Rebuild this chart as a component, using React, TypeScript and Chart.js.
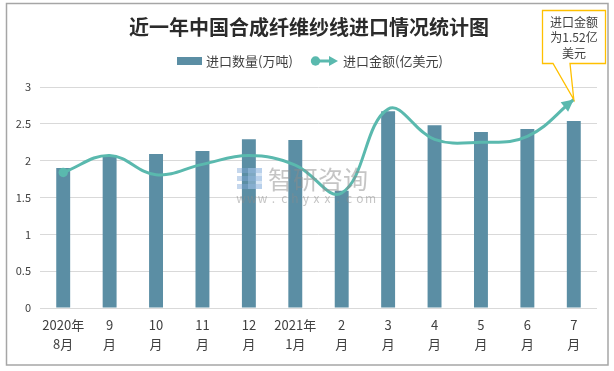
import React, { useEffect, useRef } from "react";
import { Chart, registerables } from "chart.js";

Chart.register(...registerables);

const categories: string[][] = [
  ["2020年", "8月"], ["9", "月"], ["10", "月"], ["11", "月"], ["12", "月"], ["2021年", "1月"],
  ["2", "月"], ["3", "月"], ["4", "月"], ["5", "月"], ["6", "月"], ["7", "月"],
];
const importVolume = [1.90, 2.06, 2.09, 2.13, 2.29, 2.28, 1.59, 2.67, 2.48, 2.39, 2.43, 2.54];
const importValue = [1.84, 2.07, 1.81, 1.95, 2.07, 1.94, 1.56, 2.70, 2.29, 2.25, 2.33, 2.83];
const yMin = 0;
const yMax = 3;
const yStep = 0.5;
const titleText = "近一年中国合成纤维纱线进口情况统计图";
const legendLabels = ["进口数量(万吨)", "进口金额(亿美元)"];
const calloutLines = ["进口金额", "为1.52亿", "美元"];
const watermarkCn = "智研咨询";
const watermarkUrl = "www.chyxx.com";

const FONT = "'Noto Sans CJK SC', 'Noto Sans', sans-serif";
const BAR_COLOR = "#5b8ea4";
const LINE_COLOR = "#5ab9ae";
const TEXT_COLOR = "#404040";

function arrowHead(ctx: CanvasRenderingContext2D, tipX: number, tipY: number, dx: number, dy: number, len: number, half: number) {
  const d = Math.hypot(dx, dy) || 1;
  const ux = dx / d, uy = dy / d;
  const bx = tipX - ux * len, by = tipY - uy * len;
  ctx.beginPath();
  ctx.moveTo(tipX, tipY);
  ctx.lineTo(bx - uy * half, by + ux * half);
  ctx.lineTo(bx + uy * half, by - ux * half);
  ctx.closePath();
  ctx.fill();
}

const decorPlugin = {
  id: "decor",
  beforeDraw(chart: any) {
    const ctx = chart.ctx as CanvasRenderingContext2D;
    ctx.save();
    ctx.fillStyle = "#ffffff";
    ctx.fillRect(0, 0, chart.width, chart.height);
    ctx.strokeStyle = "#a6a6a6";
    ctx.lineWidth = 1.5;
    ctx.strokeRect(6.5, 3.5, 601.5, 361.5);
    ctx.restore();
  },
  afterDatasetsDraw(chart: any) {
    const ctx = chart.ctx as CanvasRenderingContext2D;
    const meta = chart.getDatasetMeta(1);
    const pts = meta.data;
    const last = pts[pts.length - 1];
    if (!last) return;
    const dx = last.x - (last.cp1x ?? pts[pts.length - 2].x);
    const dy = last.y - (last.cp1y ?? pts[pts.length - 2].y);
    ctx.save();
    ctx.fillStyle = LINE_COLOR;
    arrowHead(ctx, last.x, last.y, dx, dy, 12, 6);
    ctx.restore();
  },
  afterDraw(chart: any) {
    const ctx = chart.ctx as CanvasRenderingContext2D;
    ctx.save();
    // title
    ctx.fillStyle = "#2b2b2b";
    ctx.font = `bold 20px ${FONT}`;
    ctx.textAlign = "center";
    ctx.textBaseline = "middle";
    ctx.fillText(titleText, 309, 27);

    // legend
    ctx.font = `13px ${FONT}`;
    ctx.textAlign = "left";
    ctx.fillStyle = BAR_COLOR;
    ctx.fillRect(177, 57, 25, 8);
    ctx.fillStyle = TEXT_COLOR;
    ctx.fillText(legendLabels[0], 206, 61.5);
    ctx.strokeStyle = LINE_COLOR;
    ctx.fillStyle = LINE_COLOR;
    ctx.lineWidth = 3;
    ctx.beginPath();
    ctx.moveTo(312, 61);
    ctx.lineTo(332, 61);
    ctx.stroke();
    ctx.beginPath();
    ctx.arc(315.5, 61, 4.7, 0, Math.PI * 2);
    ctx.fill();
    arrowHead(ctx, 338, 61, 1, 0, 9, 5);
    ctx.fillStyle = TEXT_COLOR;
    ctx.fillText(legendLabels[1], 343, 61.5);

    // watermark
    ctx.globalAlpha = 0.45;
    ctx.fillStyle = "#7fa6d6";
    ctx.fillRect(237, 168, 25, 5);
    ctx.fillRect(237, 176, 25, 5);
    ctx.fillRect(237, 184, 25, 5);
    ctx.fillStyle = "#a8c8e8";
    ctx.fillRect(248, 168, 14, 21);
    ctx.globalAlpha = 0.5;
    ctx.fillStyle = "#8c8c8c";
    ctx.font = `25px ${FONT}`;
    ctx.textBaseline = "middle";
    ctx.fillText(watermarkCn, 268, 179);
    ctx.font = `12px ${FONT}`;
    ctx.textAlign = "center";
    for (let i = 0; i < watermarkUrl.length; i++) {
      ctx.fillText(watermarkUrl[i], 241 + i * 10.8, 198);
    }
    ctx.globalAlpha = 1;

    // callout
    const meta = chart.getDatasetMeta(1);
    const last = meta.data[meta.data.length - 1];
    const tipX = last ? last.x : 573;
    const tipY = last ? last.y : 98;
    const L = 542.5, R = 605.5, T = 10.5, B = 63.5;
    ctx.beginPath();
    ctx.moveTo(L, T);
    ctx.lineTo(R, T);
    ctx.lineTo(R, B);
    ctx.lineTo(570, B);
    ctx.lineTo(tipX, tipY);
    ctx.lineTo(553, B);
    ctx.lineTo(L, B);
    ctx.closePath();
    ctx.fillStyle = "#ffffff";
    ctx.fill();
    ctx.strokeStyle = "#ffc000";
    ctx.lineWidth = 1.3;
    ctx.stroke();
    ctx.fillStyle = TEXT_COLOR;
    ctx.font = `12px ${FONT}`;
    ctx.textAlign = "center";
    ctx.textBaseline = "middle";
    calloutLines.forEach((t, i) => ctx.fillText(t, 574, 22 + i * 15.5));
    ctx.restore();
  },
};

export default function App() {
  const ref = useRef<HTMLCanvasElement | null>(null);
  useEffect(() => {
    if (!ref.current) return;
    const chart = new Chart(ref.current, {
      type: "bar",
      data: {
        labels: categories,
        datasets: [
          {
            type: "bar",
            label: legendLabels[0],
            data: importVolume,
            backgroundColor: BAR_COLOR,
            barPercentage: 0.3,
            categoryPercentage: 1,
            order: 1,
          } as any,
          {
            type: "line",
            label: legendLabels[1],
            data: importValue,
            borderColor: LINE_COLOR,
            backgroundColor: LINE_COLOR,
            borderWidth: 3,
            tension: 0.4,
            pointRadius: importValue.map((_, i) => (i === 0 ? 4.7 : 0)),
            pointBorderWidth: 0,
            pointBackgroundColor: LINE_COLOR,
            clip: false,
            order: 0,
          } as any,
        ],
      },
      options: {
        animation: false,
        responsive: false,
        devicePixelRatio: 1,
        layout: { padding: { top: 87, right: 17, left: 0, bottom: 0 } },
        plugins: {
          legend: { display: false },
          title: { display: false },
          tooltip: { enabled: false },
        },
        scales: {
          x: {
            offset: true,
            grid: { display: false, drawTicks: false },
            border: { display: false },
            ticks: {
              autoSkip: false,
              maxRotation: 0,
              minRotation: 0,
              padding: 8,
              color: TEXT_COLOR,
              font: { family: FONT, size: 13, lineHeight: 1.45 },
            },
            afterFit: (s: any) => { s.height = 63; },
          },
          y: {
            min: yMin,
            max: yMax,
            ticks: {
              stepSize: yStep,
              padding: 9,
              color: TEXT_COLOR,
              font: { family: FONT, size: 11 },
              callback: (v: any) => `${Number(v)}`,
            },
            grid: { color: "#d9d9d9", lineWidth: 1, drawTicks: false },
            border: { display: false },
            afterFit: (s: any) => { s.width = 40; },
          },
        },
      },
      plugins: [decorPlugin],
    });
    return () => chart.destroy();
  }, []);
  return (
    <div style={{ position: "fixed", left: 0, top: 0, width: 614, height: 371 }}>
      <canvas ref={ref} width={614} height={371} style={{ display: "block" }} />
    </div>
  );
}
